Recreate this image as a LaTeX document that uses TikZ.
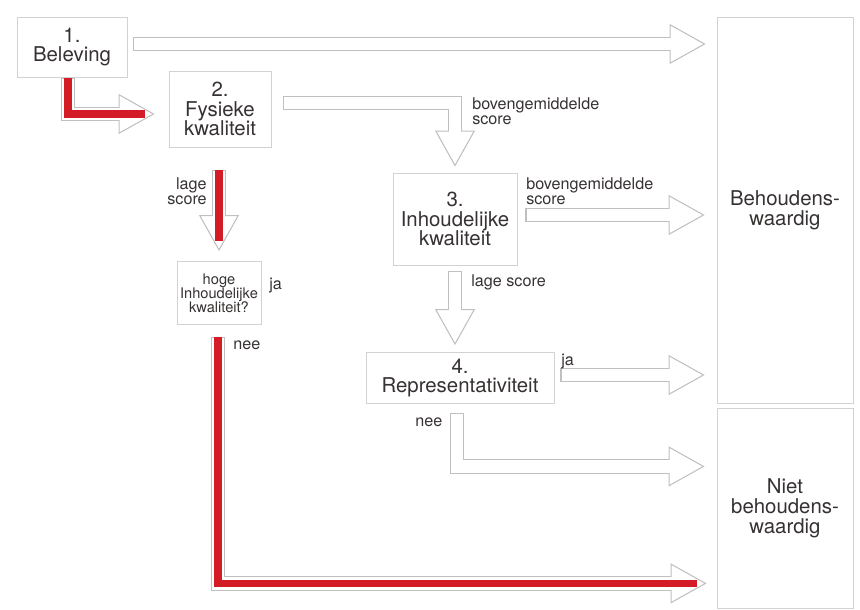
\documentclass[tikz,border=0pt]{standalone}
\usepackage{fontspec}
\setmainfont{TeX Gyre Heros}
\usetikzlibrary{positioning,arrows.meta,calc}

\definecolor{linegray}{RGB}{192,192,192}
\definecolor{boxgray}{RGB}{210,210,210}
\definecolor{textgray}{RGB}{55,50,50}
\definecolor{routered}{RGB}{212,28,38}

\begin{document}
\begin{tikzpicture}[
        x=0.025cm, y=-0.025cm,
        box_style/.style={draw=boxgray, line width=0.6pt, fill=white, align=center, inner sep=2pt, text=textgray, font=\fontsize{14.5}{14}\selectfont},
        small_box/.style={box_style, font=\fontsize{10.4}{10}\selectfont},
        label_style/.style={text=textgray, inner sep=0pt, font=\fontsize{11.5}{11}\selectfont},
        hollow/.style={
            line join=miter,
            preaction={draw=linegray, line width=10.5pt, shorten <=0pt, shorten >=0.87cm},
            preaction={draw=white, line width=0.75pt, shorten <=2pt, shorten >=0pt,
                -{Triangle[open, fill=white, color=linegray, length=0.9cm, width=1cm]}},
            draw=white, line width=9pt, shorten <=0.75pt, shorten >=0.85cm},
        hollow_red/.style={hollow,
            postaction={draw=routered, line width=5pt, shorten <=0pt, shorten >=0.25cm}}
    ]
    \useasboundingbox (0,0) rectangle (860,610);

    % Outcomes
    \node[box_style, minimum width=3.4cm, minimum height=9.65cm] (behoud) at (785,210) {Behoudens-\\waardig};
    \node[box_style, minimum width=3.4cm, minimum height=4.975cm, below=0.125cm of behoud] (niet) {Niet\\behoudens-\\waardig};

    % Criteria
    \node[box_style, minimum width=2.75cm, minimum height=1.5cm] (beleving) at (72,47) {1.\\Beleving};
    \node[box_style, minimum width=2.55cm, minimum height=1.9cm] (fysiek) at (220,109) {2.\\Fysieke\\kwaliteit};
    \node[box_style, minimum width=3.1cm, minimum height=2.3cm] (inhoud) at (455,219) {3.\\Inhoudelijke\\kwaliteit};
    \node[box_style, minimum width=4.7cm, minimum height=1.275cm] (repr) at (460,378) {4.\\Representativiteit};
    \node[small_box, minimum width=2.1cm, minimum height=1.575cm] (hoge) at (219,293) {hoge\\Inhoudelijke\\kwaliteit?};

    % Arrows from Beleving
    \draw[hollow] ($(beleving.east)+(6,-3)$) -- ($(beleving.east -| behoud.west)+(-11,-3)$);
    \draw[hollow_red] ($(beleving.south)+(-4,1)$) |- ($(fysiek.west)+(-14,5)$);

    % Arrows from Fysieke kwaliteit
    \draw[hollow] ($(fysiek.east)+(12,-6)$) -| ($(inhoud.north)+(0,-6)$);
    \draw[hollow_red] ($(fysiek.south)+(-1,23)$) -- ($(hoge.north)+(0,-10)$);

    % Arrows from Inhoudelijke kwaliteit
    \draw[hollow] ($(inhoud.east)+(8,-4)$) -- ($(inhoud.east -| behoud.west)+(-12,-4)$);
    \draw[hollow] ($(inhoud.south)+(0,6)$) -- ($(inhoud.south |- repr.north)+(0,-7)$);

    % Arrows from Representativiteit
    \draw[hollow] ($(repr.east)+(6,-3)$) -- ($(repr.east -| behoud.west)+(-12,-3)$);
    \coordinate (repr_nee) at ($(niet.west)+(-12,-42)$);
    \draw[hollow] ($(repr.south)+(-3,9)$) |- (repr_nee);

    % Arrow from hoge inhoudelijke kwaliteit
    \coordinate (hoge_nee) at ($(niet.south west)+(-10,-25)$);
    \draw[hollow_red] ($(hoge.south)+(-1,12)$) |- (hoge_nee);

    % Labels
    \node[label_style, anchor=north west, align=left] (l_boven1) at (472,97) {bovengemiddelde\\score};
    \node[label_style, anchor=north west, align=left] (l_boven2) at (526,177) {bovengemiddelde\\score};
    \node[label_style, anchor=base west] (l_lage1) at (471,286) {lage score};
    \node[label_style, anchor=north east, align=right] (l_lage2) at (207,177) {lage\\score};
    \node[label_style, anchor=base west] (l_ja1) at (269,289) {ja};
    \node[label_style, anchor=base west] (l_nee1) at (233,349) {nee};
    \node[label_style, anchor=base west] (l_ja2) at (561,365) {ja};
    \node[label_style, anchor=base west] (l_nee2) at (415,426) {nee};

\end{tikzpicture}
\end{document}
